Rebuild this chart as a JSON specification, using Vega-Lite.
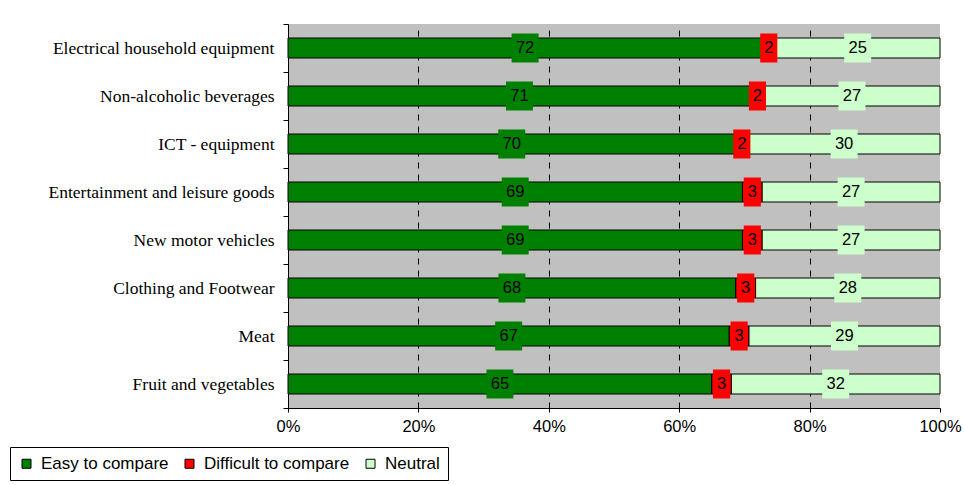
{
  "$schema": "https://vega.github.io/schema/vega-lite/v6.json",
  "width": 652,
  "height": 384,
  "autosize": "none",
  "padding": {"left": 288, "top": 24, "right": 24, "bottom": 77},
  "background": "white",
  "config": {
    "view": {"stroke": null, "fill": "#C0C0C0"},
    "font": "Liberation Sans"
  },
  "data": {
    "values": [
      {"cat": "Electrical household equipment", "resp": "Easy to compare", "ord": 1, "v": 72},
      {"cat": "Electrical household equipment", "resp": "Difficult to compare", "ord": 2, "v": 2},
      {"cat": "Electrical household equipment", "resp": "Neutral", "ord": 3, "v": 25},
      {"cat": "Non-alcoholic beverages", "resp": "Easy to compare", "ord": 1, "v": 71},
      {"cat": "Non-alcoholic beverages", "resp": "Difficult to compare", "ord": 2, "v": 2},
      {"cat": "Non-alcoholic beverages", "resp": "Neutral", "ord": 3, "v": 27},
      {"cat": "ICT - equipment", "resp": "Easy to compare", "ord": 1, "v": 70},
      {"cat": "ICT - equipment", "resp": "Difficult to compare", "ord": 2, "v": 2},
      {"cat": "ICT - equipment", "resp": "Neutral", "ord": 3, "v": 30},
      {"cat": "Entertainment and leisure goods", "resp": "Easy to compare", "ord": 1, "v": 69},
      {"cat": "Entertainment and leisure goods", "resp": "Difficult to compare", "ord": 2, "v": 3},
      {"cat": "Entertainment and leisure goods", "resp": "Neutral", "ord": 3, "v": 27},
      {"cat": "New motor vehicles", "resp": "Easy to compare", "ord": 1, "v": 69},
      {"cat": "New motor vehicles", "resp": "Difficult to compare", "ord": 2, "v": 3},
      {"cat": "New motor vehicles", "resp": "Neutral", "ord": 3, "v": 27},
      {"cat": "Clothing and Footwear", "resp": "Easy to compare", "ord": 1, "v": 68},
      {"cat": "Clothing and Footwear", "resp": "Difficult to compare", "ord": 2, "v": 3},
      {"cat": "Clothing and Footwear", "resp": "Neutral", "ord": 3, "v": 28},
      {"cat": "Meat", "resp": "Easy to compare", "ord": 1, "v": 67},
      {"cat": "Meat", "resp": "Difficult to compare", "ord": 2, "v": 3},
      {"cat": "Meat", "resp": "Neutral", "ord": 3, "v": 29},
      {"cat": "Fruit and vegetables", "resp": "Easy to compare", "ord": 1, "v": 65},
      {"cat": "Fruit and vegetables", "resp": "Difficult to compare", "ord": 2, "v": 3},
      {"cat": "Fruit and vegetables", "resp": "Neutral", "ord": 3, "v": 32}
    ]
  },
  "transform": [
    {"stack": "v", "groupby": ["cat"], "sort": [{"field": "ord"}], "offset": "normalize", "as": ["v0", "v1"]},
    {"calculate": "(datum.v0 + datum.v1) / 2", "as": "mid"}
  ],
  "encoding": {
    "y": {
      "field": "cat",
      "type": "nominal",
      "sort": ["Electrical household equipment", "Non-alcoholic beverages", "ICT - equipment", "Entertainment and leisure goods", "New motor vehicles", "Clothing and Footwear", "Meat", "Fruit and vegetables"],
      "scale": {"paddingInner": 0, "paddingOuter": 0},
      "axis": {
        "title": null,
        "labelFont": "Liberation Serif",
        "labelFontSize": 17.5,
        "labelColor": "black",
        "labelPadding": 9,
        "tickBand": "extent",
        "tickSize": 5,
        "tickColor": "black",
        "domainColor": "black",
        "grid": false,
        "labelLimit": 300
      }
    }
  },
  "layer": [
    {
      "mark": {"type": "rule", "color": "#808080", "strokeWidth": 1.5},
      "encoding": {"x": {"datum": 1, "type": "quantitative"}}
    },
    {
      "mark": {"type": "bar", "size": 20, "stroke": "black", "strokeWidth": 1},
      "encoding": {
        "x": {
          "field": "v0",
          "type": "quantitative",
          "scale": {"domain": [0, 1], "nice": false},
          "axis": {
            "title": null,
            "format": ".0%",
            "values": [0, 0.2, 0.4, 0.6, 0.8, 1],
            "labelFlush": false,
            "grid": true,
            "gridColor": "black",
            "gridDash": [6, 6],
            "gridWidth": 1,
            "gridOpacity": {"condition": {"test": "datum.value == 0 || datum.value == 1", "value": 0}, "value": 1},
            "labelFont": "Liberation Sans",
            "labelFontSize": 16.5,
            "labelColor": "black",
            "labelPadding": 6,
            "tickSize": 4,
            "tickColor": "black",
            "domainColor": "black"
          }
        },
        "x2": {"field": "v1"},
        "color": {
          "field": "resp",
          "type": "nominal",
          "scale": {"domain": ["Easy to compare", "Difficult to compare", "Neutral"], "range": ["#008000", "#FF0000", "#CCFFCC"]},
          "legend": {
            "title": null,
            "orient": "none",
            "legendX": -278,
            "legendY": 423,
            "direction": "horizontal",
            "columns": 3,
            "symbolType": "square",
            "symbolSize": 81,
            "symbolStrokeColor": "black",
            "symbolStrokeWidth": 1,
            "labelFont": "Liberation Sans",
            "labelFontSize": 17,
            "labelColor": "black",
            "labelLimit": 300,
            "labelOffset": 6,
            "columnPadding": 12,
            "strokeColor": "black",
            "padding": 8,
            "fillColor": "white"
          }
        }
      }
    },
    {
      "mark": {"type": "point", "filled": true, "opacity": 1, "size": 841, "strokeWidth": 0},
      "encoding": {
        "x": {"field": "mid", "type": "quantitative"},
        "shape": {
          "condition": {"test": "datum.v < 10", "value": "M-0.59,-1H0.59V1H-0.59Z"},
          "value": "M-0.93,-1H0.93V1H-0.93Z"
        },
        "fill": {
          "field": "resp",
          "type": "nominal",
          "scale": {"domain": ["Easy to compare", "Difficult to compare", "Neutral"], "range": ["#008000", "#FF0000", "#CCFFCC"]},
          "legend": null
        }
      }
    },
    {
      "mark": {"type": "text", "font": "Liberation Sans", "fontSize": 16.5, "color": "black", "align": "center", "baseline": "middle"},
      "encoding": {
        "x": {"field": "mid", "type": "quantitative"},
        "text": {"field": "v", "type": "quantitative"}
      }
    }
  ]
}
